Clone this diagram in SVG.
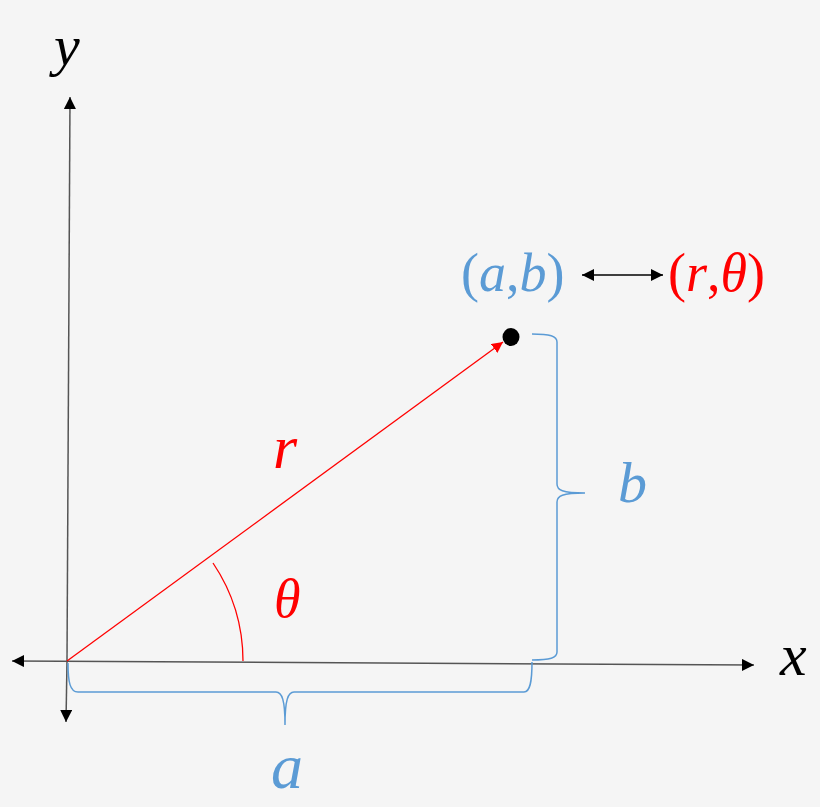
<svg xmlns="http://www.w3.org/2000/svg" width="820" height="807" viewBox="0 0 820 807">
<defs>
<marker id="ah" viewBox="0 0 10 10" refX="10" refY="5" markerWidth="12" markerHeight="12" markerUnits="userSpaceOnUse" orient="auto-start-reverse">
<path d="M0,0 L10,5 L0,10 z" fill="#000"/>
</marker>
<marker id="ahr" viewBox="0 0 10 10" refX="10" refY="5" markerWidth="11" markerHeight="11" markerUnits="userSpaceOnUse" orient="auto">
<path d="M0,0 L10,5 L0,10 z" fill="#FF0000"/>
</marker>
</defs>
<rect width="820" height="807" fill="#F5F5F5"/>
<g id="connectors" fill="none">
<g stroke="#555" stroke-width="1.5">
<line x1="67" y1="661" x2="70" y2="97" marker-end="url(#ah)"/>
<line x1="67" y1="661" x2="66" y2="722" marker-end="url(#ah)"/>
<line x1="12" y1="661" x2="754" y2="665" marker-start="url(#ah)" marker-end="url(#ah)"/>
</g>
<line x1="67" y1="661" x2="503" y2="342" stroke="#FF0000" stroke-width="1.3" marker-end="url(#ahr)"/>
<path d="M213,563 A176,176 0 0 1 243,661" stroke="#FF0000" stroke-width="1.3"/>
<line x1="582" y1="275" x2="663" y2="275" stroke="#000" stroke-width="1.3" marker-start="url(#ah)" marker-end="url(#ah)"/>
<g stroke="#5B9BD5" stroke-width="1.5">
<path d="M532,334 C550,334 557,336 557,342 L557,484 C557,490 562,493 585,493 C562,493 557,496 557,502 L557,652 C557,658 550,660 532,660"/>
<path d="M68,663 C68,682 70,692 78,692 L276,692 C282,692 285,700 285,725 C285,700 288,692 294,692 L524,692 C530,692 532,682 532,662"/>
</g>
</g>
<g id="point"><ellipse cx="511" cy="337" rx="8.5" ry="9" fill="#000"/></g>
<g id="label-y"><text x="54" y="65" font-family="Liberation Serif" font-style="italic" font-size="58" fill="#000">y</text></g>
<g id="label-x"><text x="780" y="675" font-family="Liberation Serif" font-style="italic" font-size="60" fill="#000">x</text></g>
<g id="label-r"><text x="273" y="468" font-family="Liberation Serif" font-style="italic" font-size="62" fill="#FF0000">r</text></g>
<g id="label-theta"><text x="274" y="617" font-family="Liberation Serif" font-style="italic" font-size="54" fill="#FF0000">θ</text></g>
<g id="label-b"><text x="618" y="502" font-family="Liberation Serif" font-style="italic" font-size="58" fill="#5B9BD5">b</text></g>
<g id="label-a"><text x="271" y="788" font-family="Liberation Serif" font-style="italic" font-size="64" fill="#5B9BD5">a</text></g>
<g id="label-ab"><text x="461" y="291" font-family="Liberation Serif" font-size="54" fill="#5B9BD5">(<tspan font-style="italic">a</tspan>,<tspan font-style="italic">b</tspan>)</text></g>
<g id="label-rtheta"><text x="668" y="291" font-family="Liberation Serif" font-size="54" fill="#FF0000">(<tspan font-style="italic">r</tspan>,<tspan font-style="italic">θ</tspan>)</text></g>
</svg>
